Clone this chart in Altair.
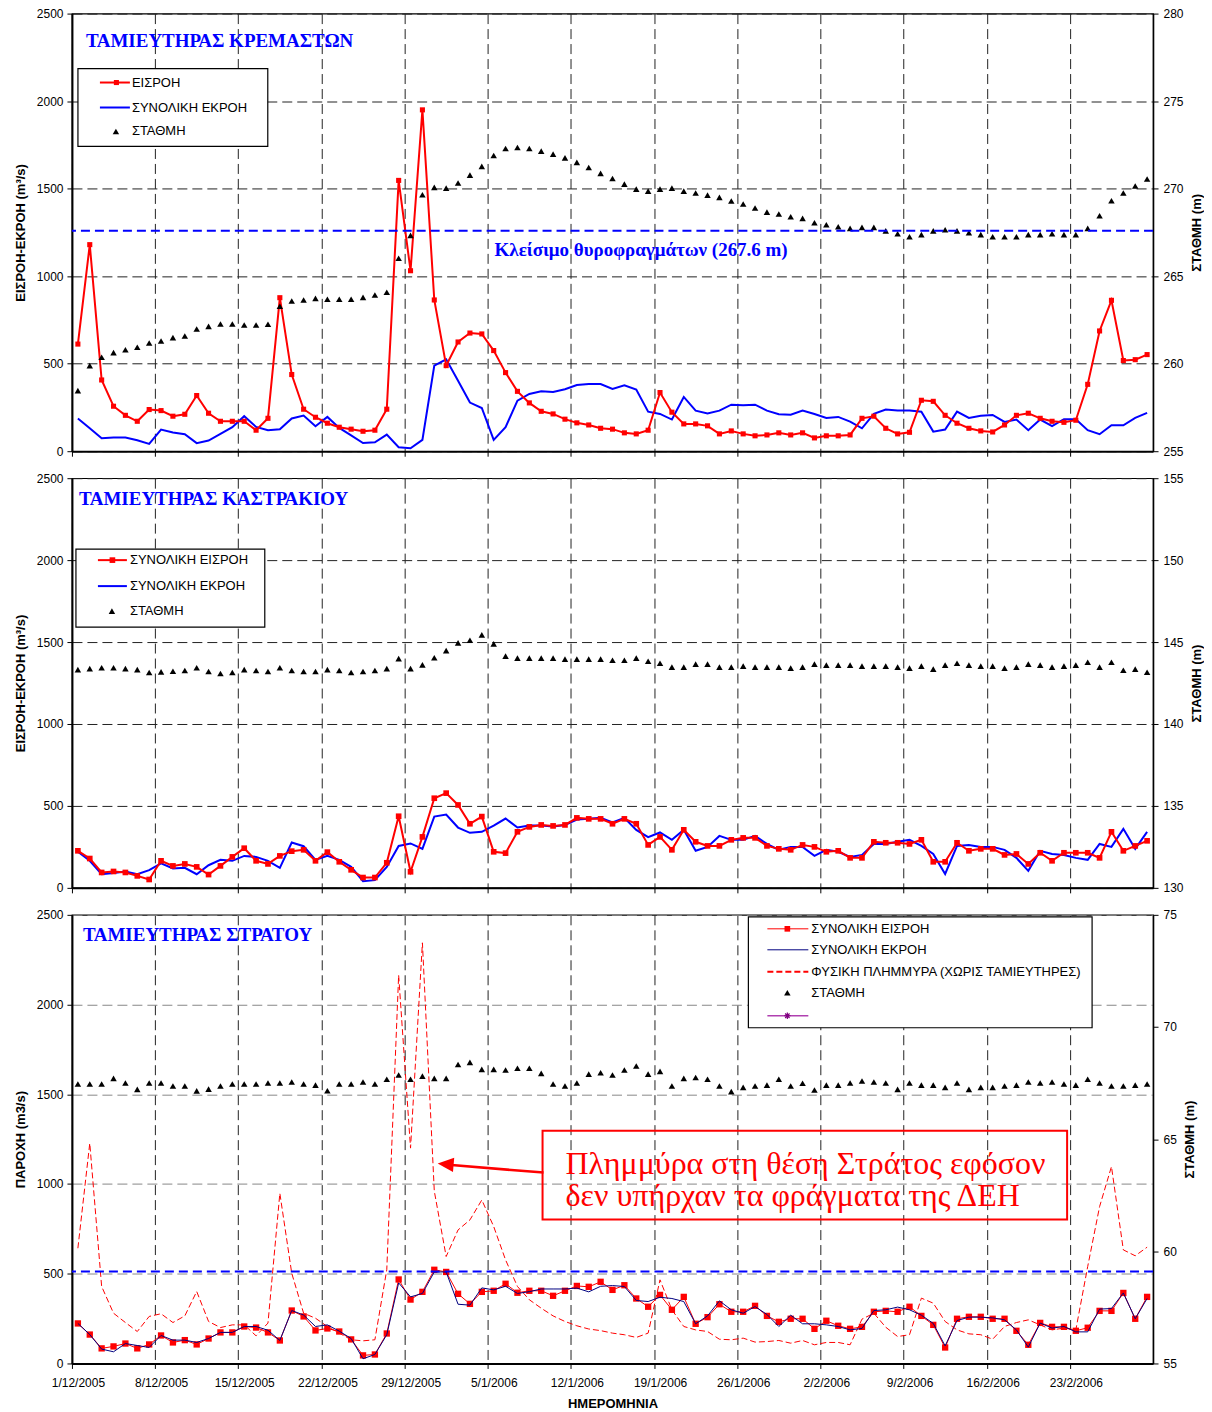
import altair as alt
import pandas as pd

# ---------------- data ----------------
N_DAYS = 91
DATES = [d.strftime("%Y-%m-%dT12:00:00") for d in pd.date_range("2005-12-01", periods=N_DAYS, freq="D")]
TICK_DATES = ["2005-12-01", "2005-12-08", "2005-12-15", "2005-12-22", "2005-12-29",
              "2006-01-05", "2006-01-12", "2006-01-19", "2006-01-26", "2006-02-02",
              "2006-02-09", "2006-02-16", "2006-02-23"]
X_END = "2006-03-02"

# Kremasta reservoir
KR_INFLOW = [612, 1180, 407, 257, 205, 171, 238, 232, 200, 211,
             318, 217, 171, 171, 171, 120, 188, 877, 438, 240,
             194, 160, 137, 126, 114, 120, 240, 1547, 1031, 1950,
             864, 489, 624, 675, 670, 575, 449, 342, 276, 228,
             213, 183, 162, 150, 131, 126, 105, 99, 120, 335,
             223, 156, 156, 145, 99, 116, 99, 88, 93, 105,
             93, 105, 76, 88, 88, 93, 188, 200, 131, 99,
             108, 291, 285, 205, 160, 131, 116, 110, 150, 205,
             217, 188, 171, 165, 177, 382, 687, 862, 518, 523,
             552]
KR_OUTFLOW = [187, 131, 74, 78, 78, 63, 42, 124, 107, 97,
              46, 61, 99, 137, 200, 139, 120, 126, 187, 204,
              143, 196, 133, 91, 47, 51, 95, 23, 17, 65,
              489, 525, 403, 278, 247, 65, 137, 289, 327, 342,
              338, 354, 378, 384, 384, 356, 377, 352, 226, 213,
              181, 310, 232, 215, 232, 266, 262, 266, 232, 211,
              209, 232, 213, 190, 196, 169, 131, 213, 238, 232,
              232, 226, 112, 124, 226, 190, 202, 207, 167, 181,
              120, 181, 143, 183, 183, 120, 97, 148, 148, 190,
              219]
KR_LEVEL = [258.46, 259.89, 260.37, 260.63, 260.80, 260.94, 261.18, 261.30, 261.49, 261.58,
            261.98, 262.13, 262.27, 262.27, 262.21, 262.21, 262.25, 263.28, 263.58, 263.64,
            263.73, 263.68, 263.68, 263.68, 263.79, 263.92, 264.08, 266.02, 267.33, 269.65,
            270.07, 270.03, 270.32, 270.77, 271.27, 271.89, 272.29, 272.35, 272.29, 272.14,
            271.97, 271.76, 271.50, 271.21, 270.87, 270.58, 270.26, 269.97, 269.86, 269.97,
            270.03, 269.86, 269.75, 269.63, 269.50, 269.29, 269.12, 268.89, 268.66, 268.55,
            268.39, 268.30, 268.05, 267.94, 267.82, 267.73, 267.79, 267.79, 267.59, 267.42,
            267.25, 267.37, 267.59, 267.65, 267.59, 267.48, 267.37, 267.25, 267.25, 267.25,
            267.37, 267.37, 267.42, 267.37, 267.37, 267.73, 268.45, 269.31, 269.75, 270.15,
            270.55]
KR_GATE_LEVEL = 267.6

# Kastraki reservoir
KA_INFLOW = [226, 179, 94, 100, 94, 73, 51, 165, 134, 146,
             128, 81, 134, 189, 242, 165, 146, 195, 224, 232,
             165, 218, 159, 110, 63, 63, 153, 437, 98, 311,
             547, 578, 506, 391, 435, 220, 212, 342, 372, 384,
             378, 384, 427, 421, 421, 391, 421, 391, 262, 311,
             232, 354, 281, 256, 256, 293, 305, 305, 256, 238,
             232, 262, 250, 220, 226, 183, 183, 281, 275, 275,
             268, 293, 159, 159, 275, 226, 238, 238, 201, 207,
             146, 214, 165, 214, 214, 214, 183, 342, 226, 256,
             287]
KA_OUTFLOW = [220, 165, 83, 90, 100, 83, 108, 150, 118, 122,
              83, 138, 171, 165, 195, 189, 165, 122, 277, 254,
              171, 195, 171, 128, 41, 47, 128, 256, 271, 238,
              435, 447, 368, 336, 342, 380, 423, 368, 380, 380,
              374, 384, 417, 421, 427, 399, 427, 354, 309, 338,
              293, 354, 226, 250, 317, 293, 293, 317, 268, 232,
              250, 250, 195, 232, 220, 189, 201, 268, 268, 281,
              293, 256, 207, 85, 256, 262, 250, 250, 232, 183,
              104, 226, 207, 201, 183, 171, 268, 250, 360, 238,
              342]
KA_LEVEL = [143.32, 143.38, 143.43, 143.43, 143.38, 143.32, 143.14, 143.18, 143.22, 143.26,
            143.43, 143.20, 143.08, 143.14, 143.32, 143.26, 143.20, 143.43, 143.26, 143.20,
            143.20, 143.32, 143.26, 143.14, 143.20, 143.26, 143.38, 143.99, 143.38, 143.61,
            144.04, 144.48, 144.95, 145.11, 145.44, 144.89, 144.14, 144.02, 144.02, 144.02,
            144.02, 143.96, 143.96, 143.96, 143.96, 143.89, 143.89, 144.02, 143.83, 143.71,
            143.47, 143.47, 143.65, 143.65, 143.47, 143.47, 143.53, 143.47, 143.47, 143.47,
            143.41, 143.47, 143.65, 143.59, 143.59, 143.59, 143.53, 143.53, 143.53, 143.47,
            143.41, 143.53, 143.35, 143.59, 143.71, 143.59, 143.53, 143.53, 143.41, 143.47,
            143.65, 143.59, 143.47, 143.53, 143.59, 143.77, 143.47, 143.77, 143.28, 143.35,
            143.16]

# Stratos reservoir
ST_INFLOW = [223, 161, 84, 95, 111, 84, 106, 156, 117, 130,
             106, 139, 173, 173, 206, 200, 173, 128, 295, 262,
             184, 195, 178, 134, 45, 50, 167, 468, 356, 399,
             522, 510, 388, 332, 399, 405, 444, 394, 405, 405,
             377, 405, 432, 427, 455, 410, 436, 362, 316, 382,
             299, 371, 221, 258, 330, 288, 288, 321, 265, 232,
             249, 249, 193, 238, 210, 193, 204, 288, 293, 288,
             316, 265, 215, 89, 249, 260, 260, 249, 249, 182,
             104, 226, 204, 204, 182, 199, 293, 293, 393, 249,
             371]
ST_OUTFLOW = [223, 161, 80, 65, 111, 100, 89, 156, 130, 130,
              117, 139, 173, 173, 206, 206, 185, 128, 295, 270,
              206, 215, 180, 139, 26, 50, 160, 449, 371, 390,
              510, 510, 330, 325, 421, 410, 430, 390, 400, 415,
              415, 415, 420, 399, 430, 434, 429, 351, 345, 369,
              362, 345, 221, 265, 349, 299, 280, 317, 273, 206,
              269, 221, 221, 215, 206, 187, 195, 295, 299, 314,
              299, 269, 223, 98, 239, 258, 258, 254, 243, 187,
              91, 225, 197, 206, 176, 176, 303, 306, 393, 249,
              362]
ST_NATURAL = [642, 1227, 429, 280, 228, 178, 262, 277, 228, 265,
              401, 234, 200, 215, 215, 154, 225, 948, 503, 280,
              252, 206, 169, 132, 126, 132, 522, 2164, 1200, 2344,
              960, 596, 744, 800, 911, 763, 577, 429, 355, 308,
              265, 234, 210, 192, 183, 169, 160, 145, 169, 466,
              299, 206, 187, 178, 135, 132, 141, 119, 122, 128,
              113, 128, 104, 117, 117, 104, 247, 280, 202, 150,
              160, 364, 336, 234, 187, 165, 160, 135, 206, 228,
              243, 215, 187, 197, 187, 540, 874, 1097, 633, 600,
              648]
ST_LEVEL = [67.46, 67.46, 67.46, 67.71, 67.50, 67.22, 67.50, 67.50, 67.37, 67.37,
            67.15, 67.23, 67.37, 67.46, 67.46, 67.46, 67.50, 67.50, 67.55, 67.46,
            67.41, 67.16, 67.46, 67.46, 67.55, 67.46, 67.67, 67.86, 67.67, 67.81,
            67.71, 67.71, 68.33, 68.42, 68.11, 68.11, 68.08, 68.16, 68.16, 67.93,
            67.46, 67.37, 67.50, 67.90, 67.96, 67.86, 68.08, 68.26, 67.90, 68.02,
            67.37, 67.71, 67.75, 67.67, 67.37, 67.12, 67.31, 67.37, 67.41, 67.67,
            67.37, 67.49, 67.19, 67.41, 67.41, 67.50, 67.59, 67.55, 67.50, 67.22,
            67.50, 67.41, 67.41, 67.31, 67.50, 67.22, 67.31, 67.31, 67.37, 67.41,
            67.55, 67.50, 67.55, 67.46, 67.41, 67.67, 67.50, 67.37, 67.37, 67.41,
            67.46]
ST_REF_LEVEL = 59.1

for arr in [KR_INFLOW, KR_OUTFLOW, KR_LEVEL, KA_INFLOW, KA_OUTFLOW, KA_LEVEL,
            ST_INFLOW, ST_OUTFLOW, ST_NATURAL, ST_LEVEL]:
    assert len(arr) == N_DAYS, len(arr)

# ---------------- styling helpers ----------------
SANS = "Liberation Sans"
SERIF = "Liberation Serif"
RED = "#FF0000"
BLUE = "#0000FF"
NAVY = "#000080"
W = 1082
ONE = pd.DataFrame({"k": [0]})
LEG = 13


def dt(s):
    y, m, d = map(int, s.split("-"))
    return alt.DateTime(year=y, month=m, date=d)


X_SCALE = alt.Scale(domain=[dt(TICK_DATES[0]), dt(X_END)])


def x_axis(show):
    common = dict(values=[dt(s) for s in TICK_DATES], grid=True, gridDash=[10, 5],
                  gridColor="#222222", gridWidth=1, tickSize=5, tickColor="black",
                  domainColor="black", domainWidth=2)
    if show:
        return alt.Axis(format="%-d/%-m/%Y", formatType="time", labelOffset=6, labelPadding=9,
                        labelFontSize=12, labelFont=SANS, labelColor="black", labelAngle=0,
                        labelFlush=False, labelOverlap=False,
                        title="ΗΜΕΡΟΜΗΝΙΑ", titleFont=SANS, titleFontSize=13,
                        titleFontWeight="bold", titleColor="black", titlePadding=9, **common)
    return alt.Axis(labels=False, title=None, **common)


def flow_axis(title, grid_color):
    return alt.Axis(orient="left", values=[0, 500, 1000, 1500, 2000, 2500], format="d",
                    title=title, grid=True, gridDash=[10, 5], gridColor=grid_color, gridWidth=1,
                    tickSize=5, tickColor="black", labelPadding=4, labelFontSize=12,
                    labelFont=SANS, labelColor="black", titleFont=SANS, titleFontSize=13,
                    titleFontWeight="bold", titleColor="black", titlePadding=9,
                    domainColor="black", domainWidth=2)


def level_axis(lo, hi):
    return alt.Axis(orient="right", values=list(range(lo, hi + 1, 5)), format="d", grid=False,
                    title="ΣΤΑΘΜΗ (m)", titleAngle=270, titleBaseline="top", titlePadding=7,
                    titleFont=SANS, titleFontSize=13, titleFontWeight="bold", titleColor="black",
                    tickSize=5, tickColor="black", labelPadding=5, labelFontSize=12,
                    labelFont=SANS, labelColor="black", domainColor="black", domainWidth=1.5)


def t(x, y, s, size=LEG, color="black", font=SANS, weight="normal", baseline="middle"):
    return alt.Chart(ONE).mark_text(align="left", baseline=baseline, font=font, fontSize=size,
                                    fontWeight=weight, color=color).encode(
        x=alt.value(x), y=alt.value(y), text=alt.value(s))


def seg(x1, y1, x2, y2, color, width=2.0, dash=None):
    kw = dict(color=color, strokeWidth=width)
    if dash:
        kw["strokeDash"] = dash
    return alt.Chart(ONE).mark_rule(**kw).encode(
        x=alt.value(x1), y=alt.value(y1), x2=alt.value(x2), y2=alt.value(y2))


def sym(x, y, shape, size, color, filled=True, angle=0, sw=1.0):
    return alt.Chart(ONE).mark_point(shape=shape, size=size, color=color, filled=filled,
                                     opacity=1, angle=angle, strokeWidth=sw).encode(
        x=alt.value(x), y=alt.value(y))


def box(x1, y1, x2, y2, stroke, sw, fill="white", fill_opacity=1.0):
    return alt.Chart(ONE).mark_rect(fill=fill, fillOpacity=fill_opacity, stroke=stroke,
                                    strokeWidth=sw).encode(
        x=alt.value(x1), y=alt.value(y1), x2=alt.value(x2), y2=alt.value(y2))


def build_panel(df, height, flow_title, grid_color, lvl_lo, lvl_hi, show_x,
                flow_layers_fn, level_extra, annotations):
    X = alt.X("date:T", scale=X_SCALE, axis=x_axis(show_x))
    fscale = alt.Scale(domain=[0, 2500], nice=False, zero=False)
    fax = flow_axis(flow_title, grid_color)
    lscale = alt.Scale(domain=[lvl_lo, lvl_hi], nice=False, zero=False)
    lax = level_axis(lvl_lo, lvl_hi)
    base = alt.Chart(df)
    flows = flow_layers_fn(base, X, fscale, fax)
    levels = [base.mark_point(shape="triangle-up", filled=True, size=42, color="black",
                              opacity=1).encode(x=X, y=alt.Y("level:Q", scale=lscale, axis=lax))]
    for val, color in level_extra:
        levels.append(alt.Chart(pd.DataFrame({"ref": [val]})).mark_rule(
            color=color, strokeWidth=2, strokeDash=[9, 5]).encode(
            y=alt.Y("ref:Q", scale=lscale, axis=lax)))
    return alt.layer(alt.layer(*flows), alt.layer(*levels), alt.layer(*annotations)).resolve_scale(
        y="independent").properties(width=W, height=height)


# ---------------- panel 1: Kremasta ----------------
df1 = pd.DataFrame({"date": DATES, "inflow": KR_INFLOW, "outflow": KR_OUTFLOW, "level": KR_LEVEL})


def flows1(base, X, fs, fa):
    return [
        base.mark_line(color=BLUE, strokeWidth=2).encode(x=X, y=alt.Y("outflow:Q", scale=fs, axis=fa)),
        base.mark_line(color=RED, strokeWidth=2).encode(x=X, y=alt.Y("inflow:Q", scale=fs, axis=fa)),
        base.mark_point(shape="square", filled=True, size=26, color=RED, opacity=1).encode(
            x=X, y=alt.Y("inflow:Q", scale=fs, axis=fa)),
    ]


ann1 = [
    t(14, 27, "ΤΑΜΙΕΥΤΗΡΑΣ ΚΡΕΜΑΣΤΩΝ", size=19, color=BLUE, font=SERIF, weight="bold"),
    t(423, 237, "Κλείσιμο θυροφραγμάτων (267.6 m)", size=19, color=BLUE, font=SERIF, weight="bold"),
    box(6, 55, 196, 133, "black", 1.2),
    seg(28, 69, 58, 69, RED, 2), sym(44.5, 69, "square", 26, RED), t(60, 69, "ΕΙΣΡΟΗ"),
    seg(28, 94, 58, 94, BLUE, 2), t(60, 94, "ΣΥΝΟΛΙΚΗ ΕΚΡΟΗ"),
    sym(44, 118, "triangle-up", 42, "black"), t(60, 118, "ΣΤΑΘΜΗ"),
]

p1 = build_panel(df1, 438, "ΕΙΣΡΟΗ-ΕΚΡΟΗ (m³/s)", "#222222", 255, 280, False,
                 flows1, [(KR_GATE_LEVEL, BLUE)], ann1)

# ---------------- panel 2: Kastraki ----------------
df2 = pd.DataFrame({"date": DATES, "inflow": KA_INFLOW, "outflow": KA_OUTFLOW, "level": KA_LEVEL})


def flows2(base, X, fs, fa):
    return [
        base.mark_line(color=BLUE, strokeWidth=2).encode(x=X, y=alt.Y("outflow:Q", scale=fs, axis=fa)),
        base.mark_line(color=RED, strokeWidth=2).encode(x=X, y=alt.Y("inflow:Q", scale=fs, axis=fa)),
        base.mark_point(shape="square", filled=True, size=32, color=RED, opacity=1).encode(
            x=X, y=alt.Y("inflow:Q", scale=fs, axis=fa)),
    ]


ann2 = [
    t(7, 21, "ΤΑΜΙΕΥΤΗΡΑΣ ΚΑΣΤΡΑΚΙΟΥ", size=19, color=BLUE, font=SERIF, weight="bold"),
    box(4, 71, 193, 149, "black", 1.2),
    seg(26, 82, 55, 82, RED, 2), sym(40.5, 82, "square", 32, RED), t(58, 82, "ΣΥΝΟΛΙΚΗ ΕΙΣΡΟΗ"),
    seg(26, 108, 55, 108, BLUE, 2), t(58, 108, "ΣΥΝΟΛΙΚΗ ΕΚΡΟΗ"),
    sym(40, 133, "triangle-up", 42, "black"), t(58, 133, "ΣΤΑΘΜΗ"),
]

p2 = build_panel(df2, 410, "ΕΙΣΡΟΗ-ΕΚΡΟΗ (m³/s)", "#222222", 130, 155, False,
                 flows2, [], ann2)

# ---------------- panel 3: Stratos ----------------
df3 = pd.DataFrame({"date": DATES, "inflow": ST_INFLOW, "outflow": ST_OUTFLOW,
                    "natural": ST_NATURAL, "level": ST_LEVEL})


def flows3(base, X, fs, fa):
    return [
        base.mark_line(color=RED, strokeWidth=1, strokeDash=[6, 3]).encode(
            x=X, y=alt.Y("natural:Q", scale=fs, axis=fa)),
        base.mark_line(color=RED, strokeWidth=1).encode(x=X, y=alt.Y("inflow:Q", scale=fs, axis=fa)),
        base.mark_point(shape="square", filled=True, size=40, color=RED, opacity=1).encode(
            x=X, y=alt.Y("inflow:Q", scale=fs, axis=fa)),
        base.mark_line(color=NAVY, strokeWidth=1).encode(x=X, y=alt.Y("outflow:Q", scale=fs, axis=fa)),
    ]


ASTERISK = "M-1,0L1,0M0,-1L0,1M-0.7,-0.7L0.7,0.7M-0.7,0.7L0.7,-0.7"
ann3 = [
    t(11, 20, "ΤΑΜΙΕΥΤΗΡΑΣ ΣΤΡΑΤΟΥ", size=19, color=BLUE, font=SERIF, weight="bold"),
    box(677, 2, 1021, 113, "black", 1.2),
    seg(696, 14, 737, 14, RED, 1), sym(716, 14, "square", 32, RED), t(740, 14, "ΣΥΝΟΛΙΚΗ ΕΙΣΡΟΗ"),
    seg(696, 35, 737, 35, NAVY, 1), t(740, 35, "ΣΥΝΟΛΙΚΗ ΕΚΡΟΗ"),
    seg(696, 57, 737, 57, RED, 2, [6, 3]), t(740, 57, "ΦΥΣΙΚΗ ΠΛΗΜΜΥΡΑ (ΧΩΡΙΣ ΤΑΜΙΕΥΤΗΡΕΣ)"),
    sym(716, 78, "triangle-up", 42, "black"), t(740, 78, "ΣΤΑΘΜΗ"),
    seg(696, 101, 737, 101, "#B040B0", 1.5), sym(716, 101, ASTERISK, 40, "#800080", filled=False, sw=1.2),
    box(471, 216, 996, 305, RED, 2, fill="white", fill_opacity=0),
    t(494, 259, "Πλημμύρα στη θέση Στράτος εφόσον", size=32, color=RED, font=SERIF, baseline="alphabetic"),
    t(494, 291, "δεν υπήρχαν τα φράγματα της ΔΕΗ", size=32, color=RED, font=SERIF, baseline="alphabetic"),
    seg(472, 258, 380, 250.5, RED, 2.5),
    sym(374, 249.5, "M-1,0L1,-0.9L1,0.9Z", 256, RED, angle=5),
]

p3 = build_panel(df3, 449, "ΠΑΡΟΧΗ (m3/s)", "#888888", 55, 75, True,
                 flows3, [(ST_REF_LEVEL, BLUE)], ann3)

chart = alt.vconcat(p1, p2, p3, spacing=13).properties(
    padding={"left": 5, "top": -2, "right": 0, "bottom": 0}
).configure(background="white", font=SANS).configure_view(stroke="black", strokeWidth=1.2)

chart.save("out.html", embed_options={"renderer": "svg", "actions": False})
